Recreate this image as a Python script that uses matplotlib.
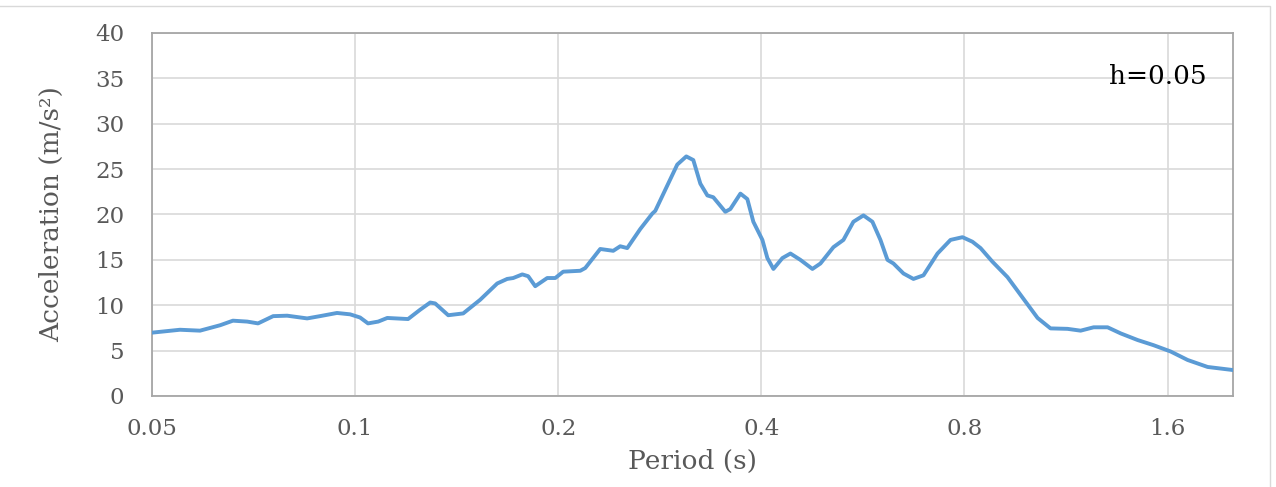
import matplotlib
matplotlib.use("Agg")
import matplotlib.pyplot as plt
from matplotlib.ticker import FixedLocator, NullLocator
from matplotlib.patches import Rectangle

period = [0.0500, 0.0550, 0.0589, 0.0631, 0.0659, 0.0692, 0.0718, 0.0756, 0.0793, 0.0849,
          0.0887, 0.0940, 0.0983, 0.1017, 0.1045, 0.1082, 0.1116, 0.1198, 0.1248, 0.1292,
          0.1314, 0.1374, 0.1446, 0.1532, 0.1624, 0.1680, 0.1715, 0.1769, 0.1805, 0.1849,
          0.1926, 0.1980, 0.2034, 0.2156, 0.2193, 0.2308, 0.2413, 0.2471, 0.2531, 0.2646,
          0.2757, 0.2785, 0.2902, 0.3002, 0.3096, 0.3171, 0.3248, 0.3327, 0.3395, 0.3537,
          0.3598, 0.3724, 0.3813, 0.3892, 0.4014, 0.4083, 0.4168, 0.4298, 0.4417, 0.4570,
          0.4761, 0.4893, 0.5115, 0.5293, 0.5476, 0.5667, 0.5843, 0.6005, 0.6151, 0.6278,
          0.6496, 0.6721, 0.6955, 0.7296, 0.7627, 0.7946, 0.822, 0.845, 0.880, 0.9264,
          0.9785, 1.0266, 1.073, 1.137, 1.189, 1.243, 1.3037, 1.363, 1.444, 1.525,
          1.617, 1.713, 1.834, 2.00]
acceleration = [6.98, 7.3, 7.2, 7.8, 8.3, 8.2, 8.0, 8.8, 8.85, 8.55,
                8.8, 9.15, 9.0, 8.65, 8.0, 8.2, 8.6, 8.48, 9.5, 10.3,
                10.2, 8.9, 9.1, 10.6, 12.4, 12.9, 13.0, 13.4, 13.2, 12.1,
                13.0, 13.0, 13.7, 13.8, 14.1, 16.2, 16.0, 16.5, 16.3, 18.4,
                20.1, 20.4, 23.2, 25.5, 26.4, 26.0, 23.4, 22.1, 21.9, 20.3,
                20.6, 22.3, 21.7, 19.2, 17.2, 15.2, 14.0, 15.2, 15.7, 15.0,
                14.0, 14.6, 16.4, 17.2, 19.2, 19.9, 19.2, 17.2, 15.0, 14.6,
                13.5, 12.9, 13.3, 15.7, 17.2, 17.5, 17.0, 16.3, 14.8, 13.1,
                10.7, 8.6, 7.45, 7.4, 7.2, 7.57, 7.57, 6.9, 6.17, 5.6,
                4.9, 3.97, 3.2, 2.86]
x_ticks = [0.05, 0.1, 0.2, 0.4, 0.8, 1.6]
x_tick_labels = ["0.05", "0.1", "0.2", "0.4", "0.8", "1.6"]
y_ticks = [0, 5, 10, 15, 20, 25, 30, 35, 40]

plt.rcParams['font.family'] = ['DejaVu Serif']

fig = plt.figure(figsize=(12.76, 4.87), dpi=100)
ax = fig.add_axes([152/1276, 1-396/487, (1233-152)/1276, (396-33)/487])

ax.plot(period, acceleration, color="#5B9BD5", lw=2.8, solid_joinstyle="round",
        solid_capstyle="round", zorder=3)

ax.set_xscale("log", base=2)
ax.set_xlim(0.05, 2.0)
ax.set_ylim(0, 40)
ax.xaxis.set_major_locator(FixedLocator(x_ticks))
ax.xaxis.set_minor_locator(NullLocator())
ax.set_xticks(x_ticks)
ax.set_xticklabels(x_tick_labels)
ax.set_yticks(y_ticks)

ax.grid(True, color="#D9D9D9", lw=1.2, zorder=0)
ax.set_axisbelow(True)
for s in ax.spines.values():
    s.set_color("#A6A6A6")
    s.set_linewidth(1.3)
ax.tick_params(length=0, labelsize=16.5, colors="#595959")
ax.tick_params(axis="x", pad=16)
ax.tick_params(axis="y", pad=20)

ax.set_xlabel("Period (s)", fontsize=19, color="#595959", labelpad=6)
ax.set_ylabel("Acceleration (m/s²)", fontsize=19, color="#595959", labelpad=22)

ax.text(0.976, 0.881, "h=0.05", transform=ax.transAxes, ha="right", va="center",
        fontsize=19, color="black")

fig.patches.append(Rectangle((-0.01, -0.01), 1270/1276 + 0.01, 1 - 6/487 + 0.01,
                             transform=fig.transFigure, fill=False,
                             edgecolor="#D9D9D9", lw=1.0))

fig.savefig("out.png", dpi=100)
